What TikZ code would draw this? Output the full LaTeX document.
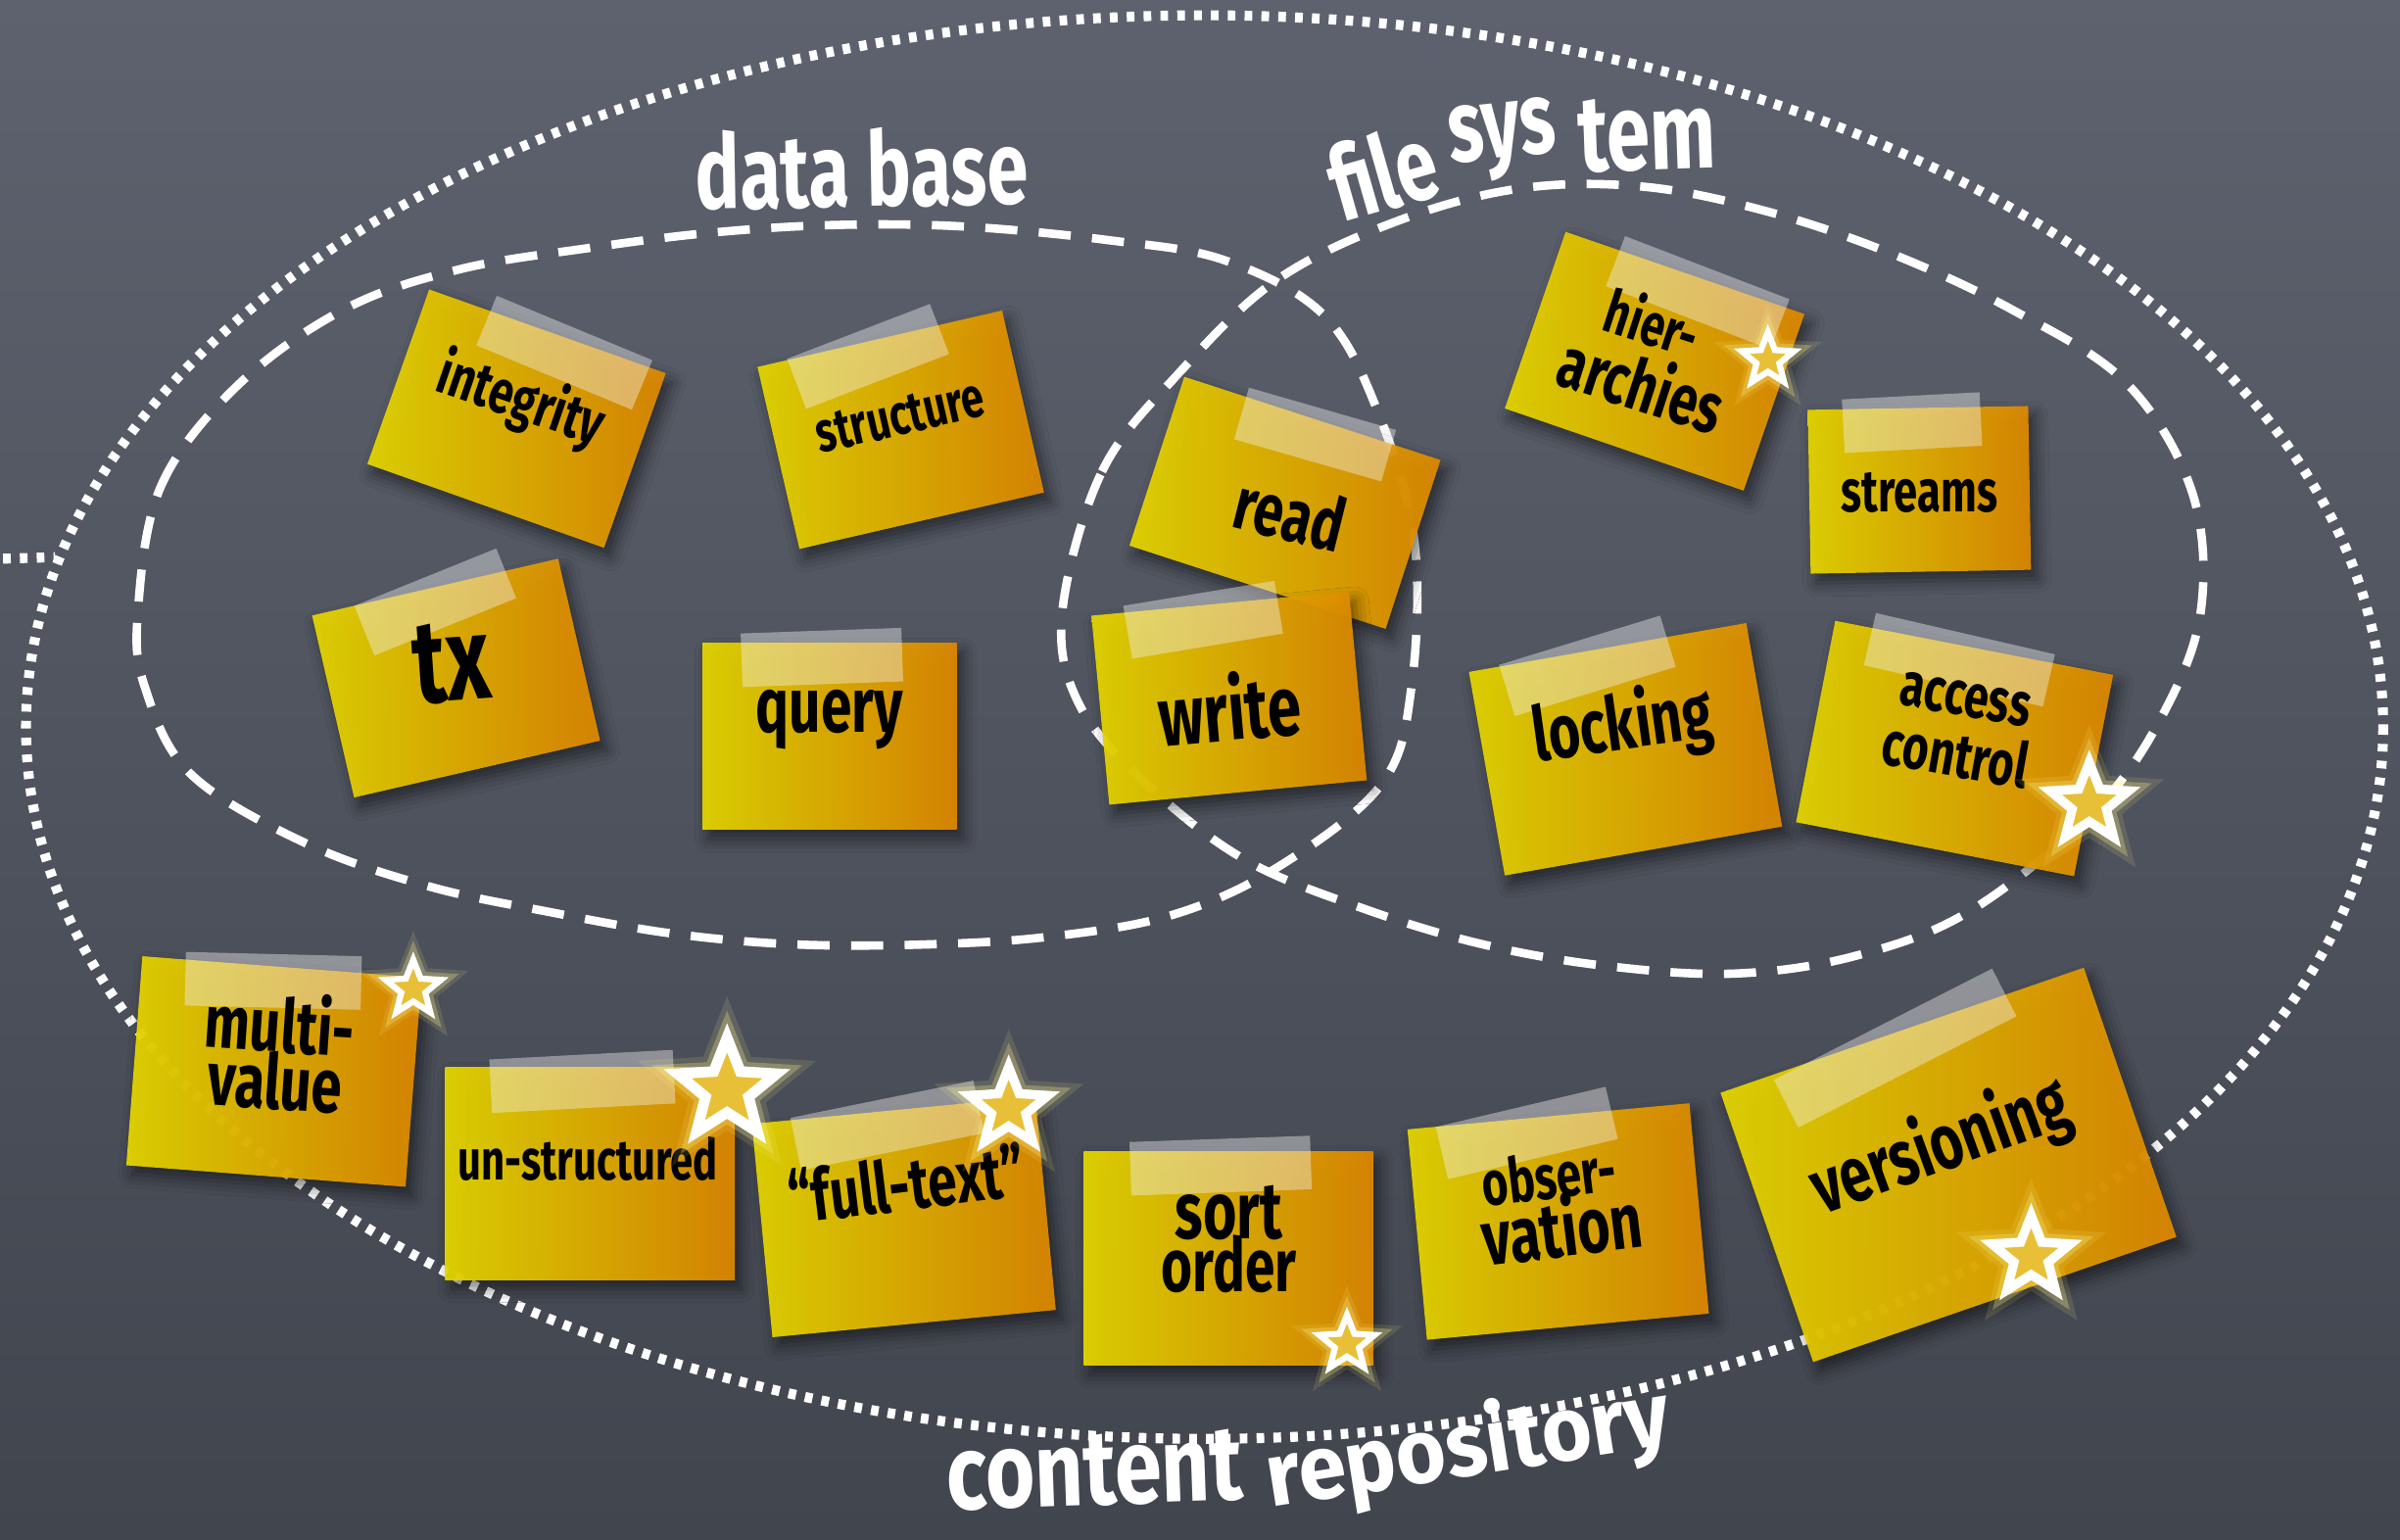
\documentclass[tikz,border=0pt]{standalone}
\usepackage{fontspec}
\usepackage{graphicx}
\newfontfamily\hand{Fira Sans}[FakeStretch=0.72]
\usetikzlibrary{shapes.geometric,shadows.blur}
\definecolor{boardtop}{HTML}{5D626E}
\definecolor{boardbot}{HTML}{41454E}
\definecolor{notey}{RGB}{228,214,0}
\definecolor{noteo}{RGB}{222,136,0}
\definecolor{staryel}{RGB}{232,192,56}
\definecolor{glow}{RGB}{255,244,140}
\tikzset{
  notebox/.style={rectangle, inner sep=0pt, fill opacity=0.94, left color=notey, right color=noteo,
    blur shadow={shadow xshift=4pt, shadow yshift=-6pt, shadow blur radius=9pt, shadow opacity=55}},
  tape/.style={fill=white!88!gray, fill opacity=0.42},
  notetext/.style={font=\hand\bfseries, text=black, inner sep=0pt},
  titletext/.style={font=\hand\bfseries, text=white, inner sep=0pt},
  dotline/.style={draw=white, line width=6.5pt, dash pattern=on 5pt off 6pt},
  dashline/.style={draw=white, line width=5.5pt, dash pattern=on 21pt off 14pt},
  starmark/.style={star, star points=5, star point ratio=2.3, draw=white, fill=staryel, inner sep=0pt,
    line join=miter,
    preaction={draw=glow, draw opacity=0.12, line width={#1pt}},
    preaction={draw=glow, draw opacity=0.28, line width={#1pt*0.65}}},
}
% name, cx, cy, w, h, angle, tape x, tape w, tape rel angle
\newcommand\stnote[9]{%
  \node[notebox, minimum width=#4pt, minimum height=#5pt, rotate=#6] (#1) at (#2,#3) {};
  \begin{scope}[shift={(#2,#3)}, rotate=#6]
    \fill[tape, rotate around={#9:({#7},{-#5/2+10})}] ({#7-#8/2},{-#5/2-8}) rectangle ({#7+#8/2},{-#5/2+27});
  \end{scope}}
\newcommand\ntxt[6]{% name, x, y, angle, width, text
  \node[notetext, rotate=#4] (#1) at (#2,#3) {\resizebox{#5pt}{!}{#6}};}
\begin{document}
\begin{tikzpicture}[x=1pt, y=-1pt]
\useasboundingbox (0,0) rectangle (1568,1006);
\fill[top color=boardtop, bottom color=boardbot] (0,0) rectangle (1568,1006);

% outer dotted ellipse (content repository)
\coordinate (stubL) at (2,365);
\coordinate (stubR) at (36,364);
\draw[dotline] (stubL) -- (stubR);
\draw[dotline] (787,475) ellipse [x radius=770, y radius=465];

% data base
\draw[dashline] plot[smooth cycle, tension=0.6] coordinates {
 (90,401) (105,318) (155,252) (225,202) (300,176) (385,162) (465,152) (545,147) (630,148) (725,157)
 (800,170) (864,205) (899,266) (924,353) (922,450) (902,513) (834,567) (765,598) (685,612) (605,617)
 (520,617) (440,610) (360,596) (280,579) (200,551) (125,506) (95,450)};
% file system
\draw[dashline] plot[smooth cycle, tension=0.6] coordinates {
 (694,400) (720,308) (770,244) (834,183) (914,144) (994,123) (1074,122) (1154,138) (1234,165)
 (1314,202) (1389,250) (1432,321) (1438,398) (1414,465) (1370,528) (1289,594) (1214,624) (1134,636)
 (1049,631) (969,617) (892,594) (814,562) (750,513) (705,460)};

% sticky notes
\stnote{nInteg}{337.5}{273.5}{164}{121}{-19.5}{15}{110}{-3}
\stnote{nStruct}{588.5}{280.75}{164}{122}{13}{-10}{100}{8}
\stnote{nTx}{298}{443}{165}{122}{13}{-2}{100}{9}
\stnote{nQuery}{542}{481}{166}{122}{0}{-5}{105}{2}
\stnote{nRead}{839.5}{328.5}{176}{116}{-18}{5}{100}{2}
\stnote{nWrite}{803}{456}{169}{124}{5.4}{-12}{100}{4}
\stnote{nHier}{1081}{236}{165}{122}{-19}{12}{115}{-2}
\stnote{nStreams}{1254}{320}{144}{107}{1}{-4}{90}{2}
\stnote{nLock}{1062}{489.5}{184}{135}{10}{-15}{110}{7}
\stnote{nAccess}{1277}{489}{185}{134}{-11}{-8}{120}{-2}
\stnote{nMulti}{179}{700}{183}{137}{-4.4}{-5}{115}{3}
\stnote{nUnstr}{385.5}{766.5}{189}{139}{0}{-5}{120}{3}
\stnote{nFull}{590.5}{795}{186}{140}{5.5}{-5}{122}{6}
\stnote{nSort}{802.5}{822}{189}{140}{0}{-5}{118}{2}
\stnote{nObs}{1018}{798}{185}{138}{5.3}{-15}{114}{8}
\stnote{nVers}{1273}{761}{251}{186}{19}{-8}{160}{8}

% note texts
\ntxt{tInteg}{340}{262}{-19}{112}{integrity}
\ntxt{tStruct}{588}{272}{13}{112}{structure}
\ntxt{tTx}{295}{433}{4}{50}{tx}
\ntxt{tQuery}{542}{470}{0}{96}{query}
\ntxt{tRead}{843}{335}{-14}{72}{read}
\ntxt{tWrite}{803}{462}{5}{93}{write}
\ntxt{tHierA}{1080}{210}{-18}{62}{hier-}
\ntxt{tHierB}{1073}{250}{-18}{110}{archies}
\ntxt{tStreams}{1254}{322}{0}{102}{streams}
\ntxt{tLock}{1060}{475}{8}{118}{locking}
\ntxt{tAccA}{1284}{457}{-10}{86}{access}
\ntxt{tAccB}{1278}{492}{-10}{96}{control}
\ntxt{tMultiA}{183}{668}{-4}{98}{multi-}
\ntxt{tMultiB}{180}{706}{-4}{88}{value}
\ntxt{tUnstr}{384}{757}{0}{170}{un-structured}
\ntxt{tFull}{592}{773}{7}{155}{“full-text”}
\ntxt{tSortA}{803}{792}{0}{70}{sort}
\ntxt{tSortB}{803}{826}{0}{88}{order}
\ntxt{tObsA}{1012}{768}{7}{88}{obser-}
\ntxt{tObsB}{1020}{801}{7}{105}{vation}
\ntxt{tVers}{1268}{750}{20}{175}{versioning}

% stars
\node[starmark=14, minimum size=36pt, line width=4pt] (sHier) at (1155,235) {};
\node[starmark=18, minimum size=54pt, line width=6pt] (sAccess) at (1365,525) {};
\node[starmark=14, minimum size=38pt, line width=4pt] (sMulti) at (270,646) {};
\node[starmark=20, minimum size=68pt, line width=7pt] (sUnstr) at (475,712) {};
\node[starmark=18, minimum size=54pt, line width=6pt] (sFull) at (659,724) {};
\node[starmark=14, minimum size=38pt, line width=4pt] (sSort) at (880,878) {};
\node[starmark=18, minimum size=54pt, line width=6pt] (sVers) at (1327,821) {};

% titles
\node[titletext, rotate=1] (tDB) at (563,110) {\resizebox{217pt}{!}{data base}};
\node[titletext, rotate=16] (tFile) at (903,112) {\resizebox{70pt}{!}{file}};
\node[titletext, rotate=6] (tSys) at (982,92) {\resizebox{70pt}{!}{sys}};
\node[titletext, rotate=2] (tTem) at (1076,88) {\resizebox{90pt}{!}{tem}};
\node[titletext, rotate=2, anchor=base] (tContent) at (716,983) {\resizebox{194pt}{46pt}{content}};
\node[titletext, rotate=9, anchor=base] (tRepo) at (962,964) {\resizebox{266pt}{48pt}{repository}};
\end{tikzpicture}
\end{document}
